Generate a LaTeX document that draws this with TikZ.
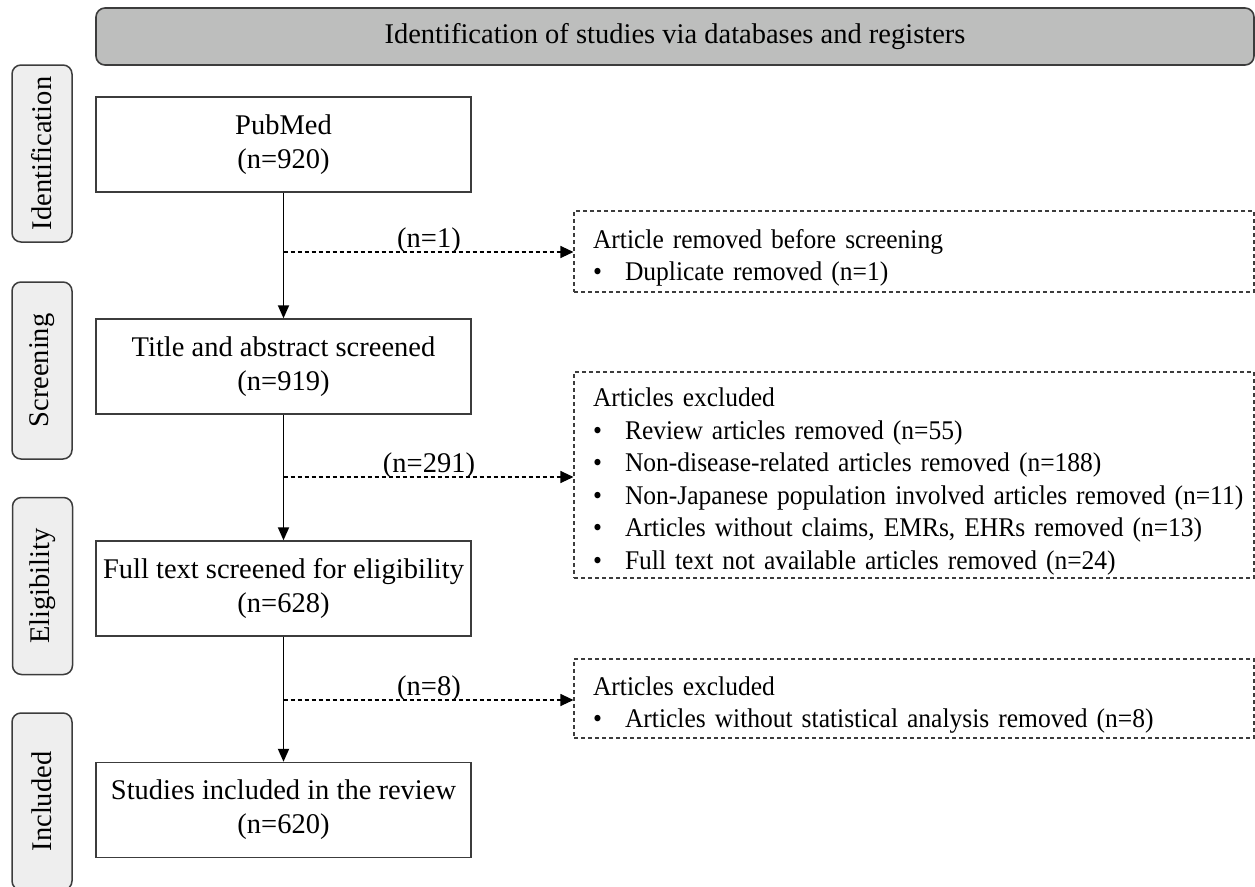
\documentclass[tikz,border=0pt]{standalone}
\usepackage{fontspec}
\setmainfont{Liberation Serif}
\newfontfamily\exfont{Liberation Serif}[FakeStretch=0.945]
\usetikzlibrary{arrows.meta}
\definecolor{bannerfill}{RGB}{189,190,189}
\definecolor{sidefill}{RGB}{238,238,238}
\definecolor{edgegray}{RGB}{60,60,60}
\newcommand{\exitem}{\hspace*{19pt}\makebox[32pt][l]{\textbullet}}
\newcommand{\exhead}{\rule{0pt}{32pt}\hspace*{19pt}}
\begin{document}
\begin{tikzpicture}[x=1pt,y=-1pt,
  mainfont/.style={font=\fontsize{28.5}{34}\selectfont},
  banner/.style={draw=edgegray, line width=1.6pt, fill=bannerfill, rounded corners=9pt, minimum width=1158pt, minimum height=57pt, inner sep=0pt, mainfont},
  phase/.style={draw=edgegray, line width=1.5pt, fill=sidefill, rounded corners=9pt, rotate=90, minimum width=177pt, minimum height=60pt, inner sep=0pt, mainfont},
  stagebox/.style={draw=edgegray, line width=1.4pt, minimum width=375pt, minimum height=95pt, align=center, inner sep=0pt, mainfont},
  exbox/.style={draw=edgegray, line width=1.1pt, dash pattern=on 4pt off 3pt, minimum width=680pt, text width=680pt, inner xsep=0pt, inner ysep=0pt, align=left, font=\exfont\fontsize{27}{32.5}\selectfont},
  flow/.style={line width=1.8pt, -{Triangle[length=13pt,width=11pt]}},
  side/.style={line width=1.1pt, dash pattern=on 4pt off 3pt, -{Triangle[length=13pt,width=12pt]}},
  count/.style={mainfont, inner sep=0pt, anchor=base}
]
\path[use as bounding box] (0,0) rectangle (1255,886);

\node[banner] (banner) at (675,36.5) {Identification of studies via databases and registers};

\node[phase] (pid) at (42,153.5) {Identification};
\node[phase] (psc) at (42,370.5) {Screening};
\node[phase] (pel) at (42.5,586) {Eligibility};
\node[phase] (pin) at (42,801.5) {Included};

\node[stagebox] (pub) at (283.5,144.5) {PubMed\\(n=920)};
\node[stagebox] (title) at (283.5,366.5) {Title and abstract screened\\(n=919)};
\node[stagebox] (full) at (283.5,588.5) {Full text screened for eligibility\\(n=628)};
\node[stagebox] (incl) at (283.5,810) {Studies included in the review\\(n=620)};

\node[exbox, minimum height=81pt] (ex1) at (914,251.5) {\exhead Article removed before screening\\
\exitem Duplicate removed (n=1)};
\node[exbox, minimum height=206pt] (ex2) at (914,475) {\exhead Articles excluded\\
\exitem Review articles removed (n=55)\\
\exitem Non-disease-related articles removed (n=188)\\
\exitem Non-Japanese population involved articles removed (n=11)\\
\exitem Articles without claims, EMRs, EHRs removed (n=13)\\
\exitem Full text not available articles removed (n=24)};
\node[exbox, minimum height=79pt] (ex3) at (914,698.5) {\exhead Articles excluded\\
\exitem Articles without statistical analysis removed (n=8)};

\draw[flow] (pub) -- (title);
\draw[flow] (title) -- (full);
\draw[flow] (full) -- (incl);

\coordinate (j1) at (283.5,252);
\coordinate (j2) at (283.5,477);
\coordinate (j3) at (283.5,700);
\draw[side] (j1) -- (j1 -| ex1.west);
\draw[side] (j2) -- (j2 -| ex2.west);
\draw[side] (j3) -- (j3 -| ex3.west);

\node[count] (c1) at (429,247) {(n=1)};
\node[count] (c2) at (429,472) {(n=291)};
\node[count] (c3) at (429,695) {(n=8)};
\end{tikzpicture}
\end{document}
